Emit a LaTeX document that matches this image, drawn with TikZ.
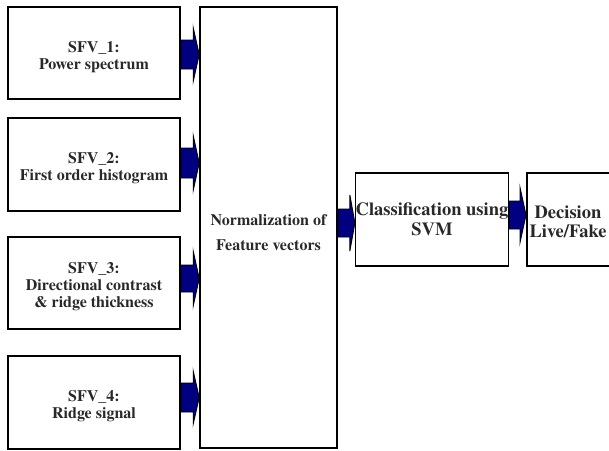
\documentclass[tikz,border=0pt]{standalone}
\usepackage{fontspec}
\setmainfont{texgyretermes}[Extension=.otf, UprightFont=*-regular, BoldFont=*-bold, ItalicFont=*-italic, BoldItalicFont=*-bolditalic]
\usetikzlibrary{calc}
\definecolor{navyfill}{RGB}{0,0,128}
\definecolor{txt}{RGB}{40,40,40}
\tikzset{
  box/.style={draw=black, line width=1.6pt, fill=white, rectangle, align=center, inner sep=0pt,
    text=txt, font=\rmfamily\bfseries\fontsize{16}{17}\selectfont},
  bigtext/.style={align=center, inner sep=0pt, text=txt, font=\rmfamily\bfseries\fontsize{18.5}{19.5}\selectfont},
  blockarrow/.style={fill=navyfill, draw=black, line width=0.9pt, line join=miter}
}
\newcommand{\blockarr}[6]{% from #1 to #2 at image row #3, body half #4, head half #5, head length #6
  \path (#1.east |- 0,#3) coordinate (s) (#2.west |- 0,#3) coordinate (t);
  \draw[blockarrow] ([yshift=#4pt]s) -- ([xshift=-#6pt,yshift=#4pt]t) -- ([xshift=-#6pt,yshift=#5pt]t)
    -- (t) -- ([xshift=-#6pt,yshift=-#5pt]t) -- ([xshift=-#6pt,yshift=-#4pt]t)
    -- ([yshift=-#4pt]s) -- cycle;}
\begin{document}
\begin{tikzpicture}[x=1pt,y=-1pt]
\useasboundingbox (0,0) rectangle (609,450);
% left boxes
\node[box, minimum width=172pt, minimum height=92pt] (f1) at (94,53) {\rule{0pt}{19pt}SFV\_1:\\Power spectrum};
\node[box, minimum width=172pt, minimum height=93pt] (f2) at (94,164.5) {\rule{0pt}{19pt}SFV\_2:\\First order histogram};
\node[box, minimum width=172pt, minimum height=92pt] (f3) at (94,283) {\rule{0pt}{19pt}SFV\_3:\\Directional contrast\\\& ridge thickness};
\node[box, minimum width=172pt, minimum height=93pt] (f4) at (94,402.5) {\rule{0pt}{19pt}SFV\_4:\\Ridge signal};
% normalization
\node[box, minimum width=137pt, minimum height=441pt] (norm) at (268.5,227.5) {};
\node[box, draw=none, fill=none, align=center] (normtext) at (268.5,233) {Normalization of\\[8pt]Feature vectors};
% classification
\node[box, bigtext, minimum width=150pt, minimum height=93pt] (cls) at (432,219.5) {Classification using\\SVM};
% decision (extends beyond the right border)
\node[box, minimum width=130pt, minimum height=93pt, anchor=west] (dec) at (526,219.5) {};
\node[bigtext] (dectext) at (568,222) {Decision\\Live/Fake};
% arrows
\blockarr{f1}{norm}{54.5}{14.5}{27}{6}
\blockarr{f2}{norm}{163}{15}{27.5}{6}
\blockarr{f3}{norm}{278.5}{13.5}{27.5}{6}
\blockarr{f4}{norm}{397.5}{14.5}{26.5}{6}
\blockarr{norm}{cls}{223}{14}{28}{5}
\blockarr{cls}{dec}{215}{14}{27.5}{6}
\end{tikzpicture}
\end{document}
